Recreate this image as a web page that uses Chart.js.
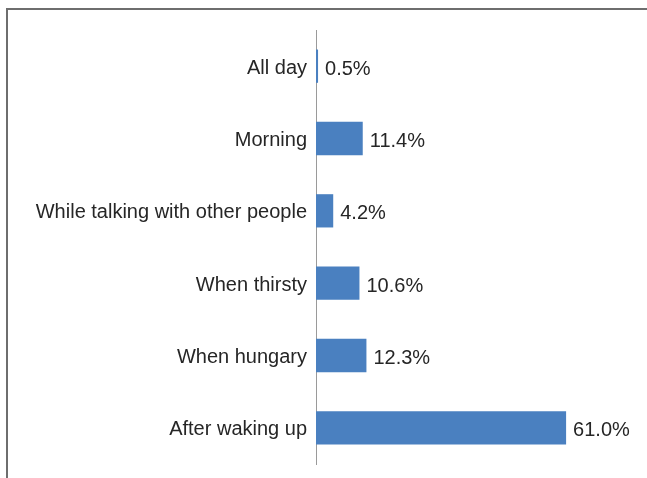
<!DOCTYPE html>
<html>
<head>
<meta charset="utf-8">
<script src="https://cdn.jsdelivr.net/npm/chart.js@4/dist/chart.umd.min.js"></script>
<style>
html,body{margin:0;padding:0;background:#fff;}
#wrap{width:647px;height:478px;position:relative;}
</style>
</head>
<body>
<div id="wrap"><canvas id="c" width="647" height="478"></canvas></div>
<script>
const categories = ["All day", "Morning", "While talking with other people", "When thirsty", "When hungary", "After waking up"];
const values = [0.5, 11.4, 4.2, 10.6, 12.3, 61.0];
const valueLabels = ["0.5%", "11.4%", "4.2%", "10.6%", "12.3%", "61.0%"];

const FONT = "'Liberation Sans', Arial, sans-serif";

const framePlugin = {
  id: 'frame',
  beforeDraw(chart) {
    const ctx = chart.ctx;
    ctx.save();
    ctx.strokeStyle = '#6e6e6e';
    ctx.lineWidth = 2;
    ctx.beginPath();
    ctx.moveTo(7, 478);
    ctx.lineTo(7, 9);
    ctx.lineTo(647, 9);
    ctx.stroke();
    ctx.restore();
  }
};

const labelPlugin = {
  id: 'valueLabels',
  afterDatasetsDraw(chart) {
    const ctx = chart.ctx;
    const meta = chart.getDatasetMeta(0);
    ctx.save();
    ctx.font = '20px ' + FONT;
    ctx.fillStyle = '#262626';
    ctx.textAlign = 'left';
    ctx.textBaseline = 'middle';
    meta.data.forEach((bar, i) => {
      ctx.fillText(valueLabels[i], bar.x + 7, bar.y + 3);
    });
    ctx.restore();
  }
};

new Chart(document.getElementById('c'), {
  type: 'bar',
  data: {
    labels: categories,
    datasets: [{
      data: values,
      backgroundColor: '#4a80c0',
      borderWidth: 0,
      categoryPercentage: 1,
      barPercentage: 0.46
    }]
  },
  options: {
    indexAxis: 'y',
    responsive: false,
    animation: false,
    devicePixelRatio: 1,
    layout: { padding: { top: 30, bottom: 14, right: 44, left: 0 } },
    plugins: { legend: { display: false }, tooltip: { enabled: false } },
    scales: {
      x: { display: false, min: 0, max: 70 },
      y: {
        grid: { display: false, drawTicks: false },
        border: { display: true, color: '#9a9a9a', width: 1 },
        ticks: { color: '#262626', font: { family: FONT, size: 20 }, padding: 9, labelOffset: 2, autoSkip: false },
        afterFit(scale) { scale.width = 316; scale.paddingTop = 0; scale.paddingBottom = 0; }
      }
    }
  },
  plugins: [framePlugin, labelPlugin]
});
</script>
</body>
</html>
